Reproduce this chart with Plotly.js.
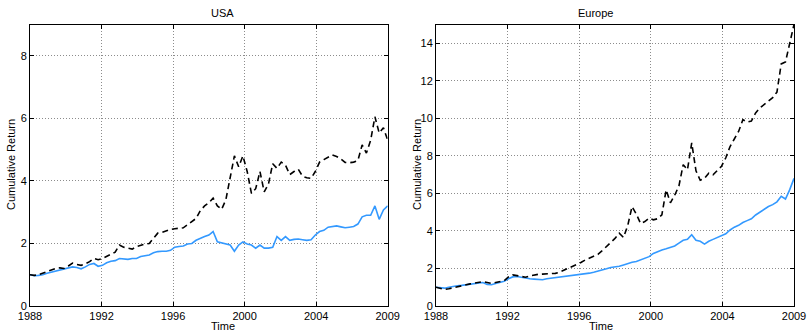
<!DOCTYPE html>
<html>
<head>
<meta charset="utf-8">
<script src="https://cdn.plot.ly/plotly-3.0.1.min.js"></script>
<style>html,body{margin:0;padding:0;background:#fff;}#chart{width:807px;height:332px;}</style>
</head>
<body>
<div id="chart"></div>
<script>
// Time axis (quarterly)
const dates = [
1988.00,1988.25,1988.50,1988.75,1989.00,1989.25,1989.50,1989.75,
1990.00,1990.25,1990.50,1990.75,1991.00,1991.25,1991.50,1991.75,
1992.00,1992.25,1992.50,1992.75,1993.00,1993.25,1993.50,1993.75,
1994.00,1994.25,1994.50,1994.75,1995.00,1995.25,1995.50,1995.75,
1996.00,1996.25,1996.50,1996.75,1997.00,1997.25,1997.50,1997.75,
1998.00,1998.25,1998.50,1998.75,1999.00,1999.25,1999.50,1999.75,
2000.00,2000.25,2000.50,2000.75,2001.00,2001.25,2001.50,2001.75,
2002.00,2002.25,2002.50,2002.75,2003.00,2003.25,2003.50,2003.75,
2004.00,2004.25,2004.50,2004.75,2005.00,2005.25,2005.50,2005.75,
2006.00,2006.25,2006.50,2006.75,2007.00,2007.25,2007.50,2007.75,
2008.00,2008.25,2008.50,2008.75,2009.00];

const usaDashed = [
1.00,0.98,1.00,1.05,1.10,1.15,1.20,1.22,
1.20,1.28,1.37,1.33,1.30,1.35,1.42,1.52,
1.48,1.52,1.58,1.65,1.72,1.95,1.88,1.85,
1.82,1.90,1.95,1.98,2.00,2.15,2.33,2.35,
2.40,2.45,2.47,2.48,2.50,2.60,2.70,2.80,
3.05,3.20,3.30,3.45,3.20,3.09,3.40,4.05,
4.80,4.45,4.80,4.30,3.60,3.75,4.30,3.65,
3.90,4.55,4.40,4.60,4.50,4.20,4.30,4.37,
4.15,4.10,4.08,4.30,4.60,4.68,4.76,4.83,
4.78,4.70,4.59,4.58,4.60,4.65,5.15,4.89,
5.30,6.05,5.53,5.70,5.30];

const usaSolid = [
1.00,0.97,0.98,1.00,1.05,1.08,1.12,1.15,
1.17,1.22,1.25,1.23,1.19,1.25,1.33,1.36,
1.27,1.30,1.38,1.43,1.45,1.52,1.50,1.49,
1.52,1.52,1.58,1.60,1.63,1.70,1.74,1.75,
1.75,1.78,1.88,1.90,1.92,1.98,2.00,2.10,
2.17,2.22,2.27,2.38,2.05,2.02,2.00,1.95,
1.75,1.95,2.05,1.98,1.95,1.85,1.95,1.85,
1.85,1.88,2.22,2.10,2.22,2.10,2.13,2.14,
2.12,2.10,2.12,2.27,2.38,2.42,2.52,2.55,
2.56,2.53,2.50,2.52,2.54,2.62,2.85,2.90,
2.90,3.20,2.77,3.07,3.20];

const euDashed = [
1.00,0.95,0.88,0.92,0.98,1.02,1.07,1.12,
1.18,1.22,1.26,1.30,1.25,1.20,1.25,1.32,
1.35,1.55,1.66,1.62,1.58,1.53,1.60,1.66,
1.69,1.70,1.70,1.72,1.74,1.80,1.90,2.00,
2.10,2.20,2.32,2.45,2.55,2.65,2.75,2.95,
3.17,3.35,3.60,3.88,3.65,4.30,5.30,4.90,
4.40,4.50,4.68,4.59,4.65,4.86,6.19,5.50,
5.90,6.40,7.53,7.26,8.69,7.20,6.70,6.80,
7.08,6.99,7.20,7.45,7.90,8.50,8.90,9.30,
9.93,9.80,9.85,10.29,10.55,10.75,10.95,11.10,
11.40,12.90,13.00,14.05,15.00];

const euSolid = [
1.00,0.98,0.95,1.00,1.05,1.08,1.10,1.13,
1.17,1.20,1.22,1.25,1.15,1.13,1.20,1.28,
1.32,1.45,1.55,1.57,1.52,1.47,1.45,1.43,
1.40,1.40,1.45,1.48,1.50,1.53,1.55,1.60,
1.63,1.67,1.70,1.72,1.75,1.80,1.85,1.92,
1.98,2.05,2.08,2.12,2.19,2.28,2.33,2.37,
2.45,2.55,2.63,2.80,2.90,2.99,3.05,3.12,
3.20,3.35,3.50,3.55,3.80,3.50,3.45,3.30,
3.45,3.55,3.65,3.78,3.85,4.05,4.20,4.30,
4.45,4.55,4.65,4.85,5.00,5.15,5.30,5.40,
5.55,5.85,5.70,6.20,6.80];

const xTickVals = [1988, 1992.2, 1996.4, 2000.6, 2004.8, 2009];
const xTickText = ['1988','1992','1996','2000','2004','2009'];
const panelTitles = ['USA', 'Europe'];

const FONT = 'Liberation Sans, Arial, Helvetica, sans-serif';
const blue = 'rgb(51,153,255)';

const traces = [
  {x: dates, y: usaSolid, xaxis:'x', yaxis:'y', mode:'lines', line:{color:blue, width:1.6}},
  {x: dates, y: usaDashed, xaxis:'x', yaxis:'y', mode:'lines', line:{color:'#000', width:1.6, dash:'6px,4px'}},
  {x: dates, y: euSolid, xaxis:'x2', yaxis:'y2', mode:'lines', line:{color:blue, width:1.6}},
  {x: dates, y: euDashed, xaxis:'x2', yaxis:'y2', mode:'lines', line:{color:'#000', width:1.6, dash:'6px,4px'}}
];

const W = 807, H = 332;
const yDom = [(H-306)/H, (H-24.5)/H];
function xax(dom, anchor){
  return {domain: dom, anchor: anchor, range:[1988, 2009], tickvals:xTickVals, ticktext:xTickText,
    showline:true, mirror:'ticks', linecolor:'#000', linewidth:1, ticks:'inside', ticklen:4, tickcolor:'#000',
    showgrid:true, gridcolor:'#8c8c8c', griddash:'1px,2px', gridwidth:1, zeroline:false,
    tickfont:{family:FONT, size:11, color:'#000'}, fixedrange:true};
}
function yax(range, anchor){
  return {domain: yDom, anchor: anchor, range: range, dtick:2, tick0:0,
    showline:true, mirror:'ticks', linecolor:'#000', linewidth:1, ticks:'inside', ticklen:4, tickcolor:'#000',
    showgrid:true, gridcolor:'#8c8c8c', griddash:'1px,2px', gridwidth:1, zeroline:false,
    tickfont:{family:FONT, size:11, color:'#000'}, fixedrange:true};
}
const d1 = [30/W, 387.7/W], d2 = [436/W, 794/W];
const layout = {
  width: W, height: H, margin:{l:0,r:0,t:0,b:0}, showlegend:false,
  paper_bgcolor:'#fff', plot_bgcolor:'#fff',
  font:{family:FONT, size:11, color:'#000'},
  xaxis: xax(d1,'y'), yaxis: yax([0,9],'x'),
  xaxis2: xax(d2,'y2'), yaxis2: yax([0,15],'x2'),
  annotations: [
    {text:panelTitles[0], xref:'paper', yref:'paper', x:(d1[0]+d1[1])/2, y:(H-12.5)/H, showarrow:false, font:{size:11}, yanchor:'middle'},
    {text:panelTitles[1], xref:'paper', yref:'paper', x:(d2[0]+d2[1])/2, y:(H-12.5)/H, showarrow:false, font:{size:11}, yanchor:'middle'},
    {text:'Time', xref:'paper', yref:'paper', x:(d1[0]+d1[1])/2, y:(H-326)/H, showarrow:false, font:{size:11}, yanchor:'middle'},
    {text:'Time', xref:'paper', yref:'paper', x:(d2[0]+d2[1])/2, y:(H-326)/H, showarrow:false, font:{size:11}, yanchor:'middle'},
    {text:'Cumulative Return', xref:'paper', yref:'paper', x:11/W, y:(H-165)/H, showarrow:false, textangle:-90, font:{size:11}, xanchor:'center', yanchor:'middle'},
    {text:'Cumulative Return', xref:'paper', yref:'paper', x:417/W, y:(H-165)/H, showarrow:false, textangle:-90, font:{size:11}, xanchor:'center', yanchor:'middle'}
  ]
};
Plotly.newPlot('chart', traces, layout, {displayModeBar:false, staticPlot:true});
</script>
</body>
</html>
